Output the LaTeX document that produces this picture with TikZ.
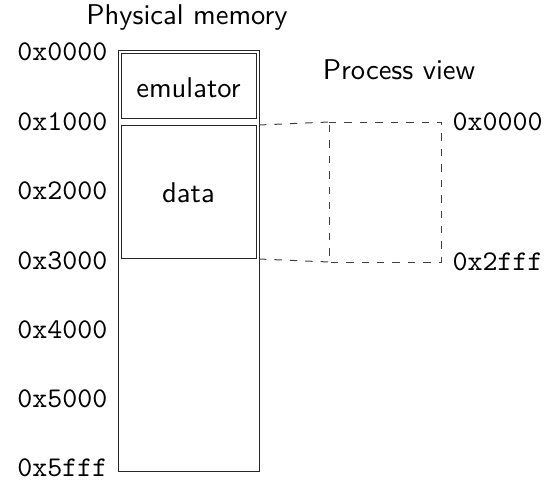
\documentclass[tikz,border=0pt]{standalone}
\begin{document}
\begin{tikzpicture}[x=0.35pt,y=-0.35pt,
  lbl/.style={font=\sffamily, inner sep=0pt},
  addr/.style={font=\ttfamily, inner sep=0pt},
  region/.style={draw=black!85, line width=0.35pt},
  mapline/.style={draw=black!75, line width=0.35pt, dash pattern=on 2.6pt off 2.8pt}]
\useasboundingbox (0,0) rectangle (546,485);

% physical memory column
\node[lbl] (title) at (187,18) {Physical memory};
\coordinate (memTL) at (118,50);
\coordinate (memBR) at (259,471);
\draw[region] (memTL) rectangle (memBR);

\coordinate (emuTL) at (121,53);
\coordinate (emuBR) at (256,118);
\draw[region] (emuTL) rectangle (emuBR);
\node[lbl] (emu) at (188.5,88) {emulator};

\coordinate (dataTL) at (121,125);
\coordinate (dataBR) at (256,258);
\draw[region] (dataTL) rectangle (dataBR);
\node[lbl] (data) at (188.5,193) {data};

% physical addresses
\node[addr, anchor=east] (a0) at (108,52) {0x0000};
\node[addr, anchor=east] (a1) at (108,122) {0x1000};
\node[addr, anchor=east] (a2) at (108,191) {0x2000};
\node[addr, anchor=east] (a3) at (108,261) {0x3000};
\node[addr, anchor=east] (a4) at (108,330) {0x4000};
\node[addr, anchor=east] (a5) at (108,399) {0x5000};
\node[addr, anchor=east] (a6) at (108,468) {0x5fff};

% process view
\node[lbl] (pview) at (399,70) {Process view};
\coordinate (pvTL) at (329,122);
\coordinate (pvTR) at (441,122);
\coordinate (pvBL) at (329,262);
\coordinate (pvBR) at (441,262);
\draw[mapline] (pvTL) -- (pvTR) -- (pvBR) -- (pvBL) -- cycle;

\coordinate (dTop) at (259,125);
\coordinate (dBot) at (259,259);
\draw[mapline] (dTop) -- (pvTL);
\draw[mapline] (dBot) -- (pvBL);

\node[addr, anchor=west] (p0) at (452,122) {0x0000};
\node[addr, anchor=west] (p1) at (452,262) {0x2fff};
\end{tikzpicture}
\end{document}
